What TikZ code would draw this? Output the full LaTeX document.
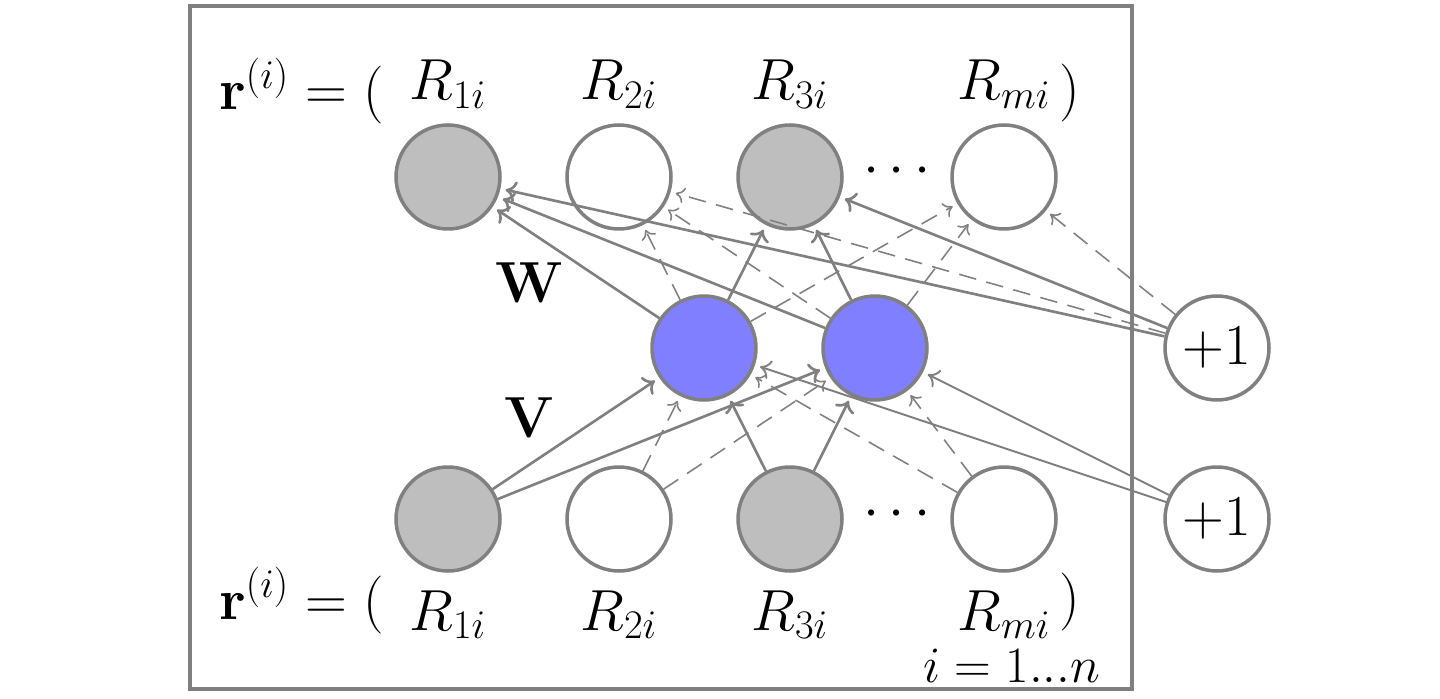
\RequirePackage{fix-cm}
\documentclass[tikz,border=0pt]{standalone}
\usetikzlibrary{arrows.meta}
\definecolor{lg}{HTML}{808080}
\definecolor{obs}{HTML}{BEBEBE}
\definecolor{hid}{HTML}{7F7FFF}
\begin{document}
\begin{tikzpicture}[x=0.02cm,y=-0.02cm,font=\fontsize{33}{40}\selectfont,
  unit/.style={circle,draw=lg,line width=2pt,minimum size=2.08cm,inner sep=0pt},
  obsu/.style={unit,fill=obs},
  hidu/.style={unit,fill=hid},
  openu/.style={unit,fill=white},
  sarr/.style={draw=lg,line width=1.5pt,-{To[length=6pt,width=12pt]},shorten >=3pt},
  barr/.style={draw=lg,line width=1.1pt,-{To[length=6pt,width=11pt]},shorten >=3pt},
  darr/.style={draw=lg,line width=0.9pt,dash pattern=on 10pt off 6pt,-{To[length=5pt,width=9pt]},shorten >=3pt},
  lbl/.style={inner sep=0pt,anchor=base}]
\useasboundingbox (0,0) rectangle (1440,699);
\draw[draw=lg,line width=1.8pt] (190,6) rectangle (1132,689);
% units
\node[obsu]  (t1) at (448,177) {};
\node[openu] (t2) at (619,177) {};
\node[obsu]  (t3) at (790,177) {};
\node[openu] (tm) at (1004,177) {};
\node[hidu]  (h1) at (704,348) {};
\node[hidu]  (h2) at (875,348) {};
\node[obsu]  (b1) at (448,519) {};
\node[openu] (b2) at (619,519) {};
\node[obsu]  (b3) at (790,519) {};
\node[openu] (bm) at (1004,519) {};
\node[openu] (p1) at (1217,348) {$+1$};
\node[openu] (p2) at (1217,519) {$+1$};
% dots
\node (dt) at (897,172) {$\cdots$};
\node (db) at (897,515) {$\cdots$};
% labels top
\node[lbl,anchor=base west] (rt) at (219,110) {$\mathbf{r}^{(i)}=($};
\node[lbl] (rt1) at (448,100) {$R_{1i}$};
\node[lbl] (rt2) at (619,100) {$R_{2i}$};
\node[lbl] (rt3) at (790,100) {$R_{3i}$};
\node[lbl] (rtm) at (1004,100) {$R_{mi}$};
\node[lbl] (rtc) at (1070,108) {$)$};
% labels bottom
\node[lbl,anchor=base west] (rb) at (219,619) {$\mathbf{r}^{(i)}=($};
\node[lbl] (rb1) at (448,630) {$R_{1i}$};
\node[lbl] (rb2) at (619,630) {$R_{2i}$};
\node[lbl] (rb3) at (790,630) {$R_{3i}$};
\node[lbl] (rbm) at (1004,630) {$R_{mi}$};
\node[lbl] (rbc) at (1070,616) {$)$};
\node[lbl,font=\fontsize{29}{35}\selectfont] (idx) at (1012,682) {$i=1...n$};
\node (w) at (530,283) {$\mathbf{W}$};
\node (v) at (530,418) {$\mathbf{V}$};
% input -> hidden
\draw[sarr] (b1) -- (h1);
\draw[sarr] (b1) -- (h2);
\draw[sarr] (b3) -- (h1);
\draw[sarr] (b3) -- (h2);
\draw[darr] (b2) -- (h1);
\draw[darr] (b2) -- (h2);
\draw[darr] (bm) -- (h1);
\draw[darr] (bm) -- (h2);
\draw[barr] (p2) -- (h1);
\draw[barr] (p2) -- (h2);
% hidden -> output
\draw[sarr] (h1) -- (t1);
\draw[sarr] (h1) -- (t3);
\draw[sarr] (h2) -- (t1);
\draw[sarr] (h2) -- (t3);
\draw[darr] (h1) -- (t2);
\draw[darr] (h1) -- (tm);
\draw[darr] (h2) -- (t2);
\draw[darr] (h2) -- (tm);
\draw[sarr] (p1) -- (t1);
\draw[sarr] (p1) -- (t3);
\draw[darr] (p1) -- (t2);
\draw[darr] (p1) -- (tm);
\end{tikzpicture}
\end{document}
